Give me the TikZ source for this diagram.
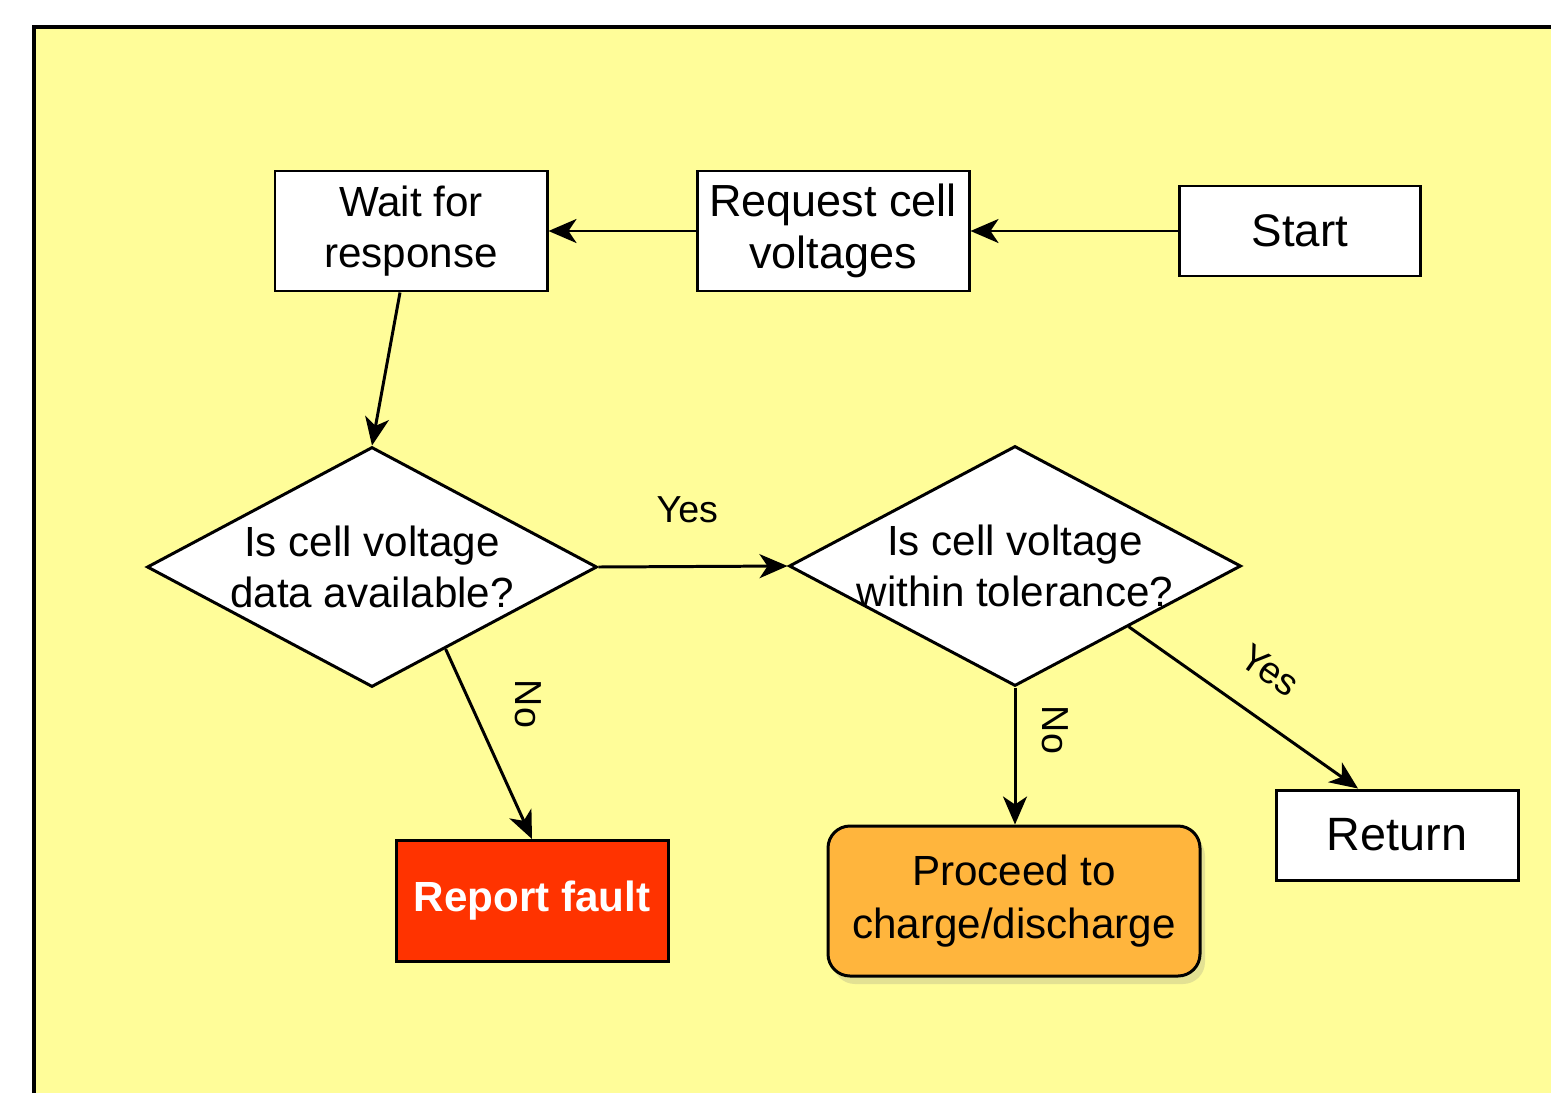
\documentclass[tikz,border=0pt]{standalone}
\usepackage{fontspec}
\setmainfont{Liberation Sans}
\usepackage{xcolor}
\usepackage{tikz}
\usetikzlibrary{arrows.meta,calc,shapes.geometric,shadows}
\definecolor{bgyellow}{HTML}{FFFD99}
\definecolor{faultred}{HTML}{FF3300}
\definecolor{proceedorange}{HTML}{FFB53D}

\begin{document}
\begin{tikzpicture}[>={Stealth[length=0.28cm,width=0.24cm,inset=0.08cm]},
  box/.style={draw,line width=0.85pt,fill=white,align=center,inner sep=0pt,font=\fontsize{12}{14.5}\selectfont},
  decision/.style={diamond,draw,line width=0.85pt,fill=white,align=center,inner xsep=-0.1cm,inner ysep=-0.05cm,shape aspect=1.875,minimum width=4.5cm,minimum height=2.4cm,font=\fontsize{12}{14.5}\selectfont},
  flow/.style={->,line width=0.85pt},
  lbl/.style={inner sep=0pt,font=\fontsize{10.7}{13}\selectfont}]
\useasboundingbox (0,0) rectangle (15.51,10.93);
\fill[bgyellow] (0.34,0) rectangle (15.51,10.66);
\draw[line width=1.2pt] (0.34,0)--(0.34,10.66)--(15.51,10.66);
\node[box,minimum width=2.72cm,minimum height=1.2cm] (wait) at (4.11,8.62) {Wait for\\response};
\node[box,minimum width=2.72cm,minimum height=1.2cm,font=\fontsize{12.8}{15}\selectfont] (request) at (8.33,8.62) {Request cell\\voltages};
\node[box,minimum width=2.41cm,minimum height=0.9cm,font=\fontsize{13}{15}\selectfont] (start) at (13.00,8.62) {Start};
\node[decision] (avail) at (3.72,5.26) {Is cell voltage\\data available?};
\node[decision,minimum width=4.52cm] (tol) at (10.15,5.27) {Is cell voltage\\within tolerance?};
\node[box,fill=faultred,text=white,minimum width=2.72cm,minimum height=1.21cm,font=\fontsize{12}{14.5}\selectfont\bfseries] (fault) at (5.32,1.92) {Report fault};
\node[box,fill=proceedorange,rounded corners=0.22cm,minimum width=3.72cm,minimum height=1.5cm,font=\fontsize{12}{15}\selectfont,drop shadow={shadow xshift=0.05cm,shadow yshift=-0.08cm,opacity=0.22}] (proceed) at (10.14,1.92) {Proceed to\\charge/discharge};
\node[box,minimum width=2.42cm,minimum height=0.9cm,font=\fontsize{13.3}{15}\selectfont] (ret) at (13.97,2.58) {Return};
\draw[flow] (start.west)--(request.east);
\draw[flow] (request.west)--(wait.east);
\draw[flow] ($(wait.south)+(-0.11,0)$)--(avail.north);
\draw[flow] (avail.east)--(tol.west) node[lbl,pos=0.47,yshift=0.57cm] (yesavail) {Yes};
\draw[flow] ($(avail.east)!0.675!(avail.south)$)--(fault.north) node[lbl,pos=0.5,xshift=0.39cm,yshift=0.4cm,rotate=-90] (noavail) {No};
\draw[flow] (tol.south)--(tol.south |- proceed.north) node[lbl,pos=0.5,xshift=0.4cm,yshift=0.26cm,rotate=-90] (notol) {No};
\draw[flow] (tol.south east)--($(ret.north)+(-0.39,0)$) node[lbl,pos=0.5,xshift=0.27cm,yshift=0.37cm,rotate=-35] (yestol) {Yes};
\end{tikzpicture}
\end{document}
